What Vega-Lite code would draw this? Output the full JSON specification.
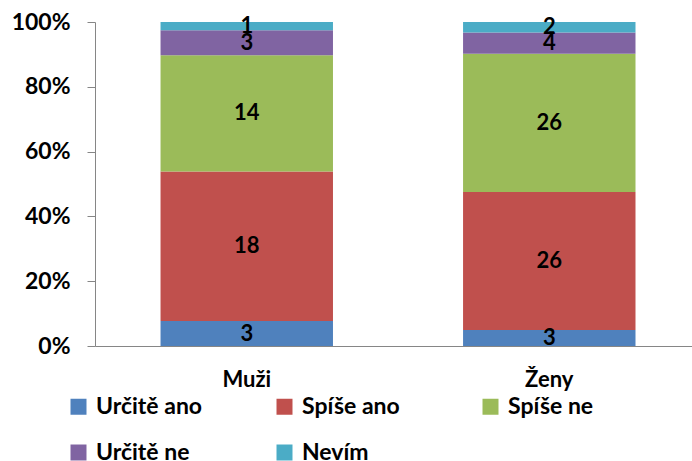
{
  "$schema": "https://vega.github.io/schema/vega-lite/v6.json",
  "width": 597,
  "height": 324,
  "autosize": {"type": "none"},
  "padding": {"left": 95, "top": 22, "right": 0, "bottom": 115},
  "background": "white",
  "config": {
    "view": {"stroke": null},
    "font": "Lato",
    "axis": {"labelFont": "Lato", "labelFontWeight": "bold", "labelColor": "black", "grid": false, "domainColor": "#868686", "tickColor": "#868686"}
  },
  "data": {
    "values": [
      {"pohlavi": "Muži", "odpoved": "Určitě ano", "k": 1, "pocet": 3},
      {"pohlavi": "Muži", "odpoved": "Spíše ano", "k": 2, "pocet": 18},
      {"pohlavi": "Muži", "odpoved": "Spíše ne", "k": 3, "pocet": 14},
      {"pohlavi": "Muži", "odpoved": "Určitě ne", "k": 4, "pocet": 3},
      {"pohlavi": "Muži", "odpoved": "Nevím", "k": 5, "pocet": 1},
      {"pohlavi": "Ženy", "odpoved": "Určitě ano", "k": 1, "pocet": 3},
      {"pohlavi": "Ženy", "odpoved": "Spíše ano", "k": 2, "pocet": 26},
      {"pohlavi": "Ženy", "odpoved": "Spíše ne", "k": 3, "pocet": 26},
      {"pohlavi": "Ženy", "odpoved": "Určitě ne", "k": 4, "pocet": 4},
      {"pohlavi": "Ženy", "odpoved": "Nevím", "k": 5, "pocet": 2}
    ]
  },
  "transform": [
    {"stack": "pocet", "groupby": ["pohlavi"], "sort": [{"field": "k", "order": "ascending"}], "offset": "normalize", "as": ["y0", "y1"]},
    {"calculate": "(datum.y0 + datum.y1) / 2", "as": "ymid"}
  ],
  "encoding": {
    "x": {
      "field": "pohlavi", "type": "nominal", "sort": ["Muži", "Ženy"],
      "scale": {"paddingInner": 0.43, "paddingOuter": 0.2017, "align": 0.537},
      "axis": {"title": null, "labelAngle": 0, "ticks": false, "labelFontSize": 22, "labelPadding": 23}
    }
  },
  "layer": [
    {
      "mark": {"type": "bar"},
      "encoding": {
        "y": {
          "field": "y0", "type": "quantitative",
          "scale": {"domain": [0, 1], "nice": false},
          "axis": {"title": null, "values": [0, 0.2, 0.4, 0.6, 0.8, 1], "format": ".0%", "labelFontSize": 23, "tickSize": 8, "labelPadding": 17}
        },
        "y2": {"field": "y1"},
        "color": {
          "field": "odpoved", "type": "nominal",
          "scale": {"domain": ["Určitě ano", "Spíše ano", "Spíše ne", "Určitě ne", "Nevím"], "range": ["#4F81BD", "#C0504D", "#9BBB59", "#8064A2", "#4BACC6"]},
          "legend": {
            "title": null, "orient": "none", "legendX": -28, "legendY": 373,
            "direction": "horizontal", "columns": 3, "gridAlign": "all",
            "symbolType": "square", "symbolSize": 256, "symbolStrokeWidth": 0, "symbolOpacity": 1,
            "labelFont": "Lato", "labelFontSize": 23, "labelFontWeight": "bold", "labelColor": "black",
            "labelOffset": 6, "labelLimit": 300, "columnPadding": 70, "rowPadding": 22
          }
        }
      }
    },
    {
      "mark": {"type": "text", "font": "Lato", "fontWeight": "bold", "fontSize": 22, "color": "black", "baseline": "middle"},
      "encoding": {
        "y": {"field": "ymid", "type": "quantitative"},
        "text": {"field": "pocet", "type": "quantitative"}
      }
    }
  ]
}
